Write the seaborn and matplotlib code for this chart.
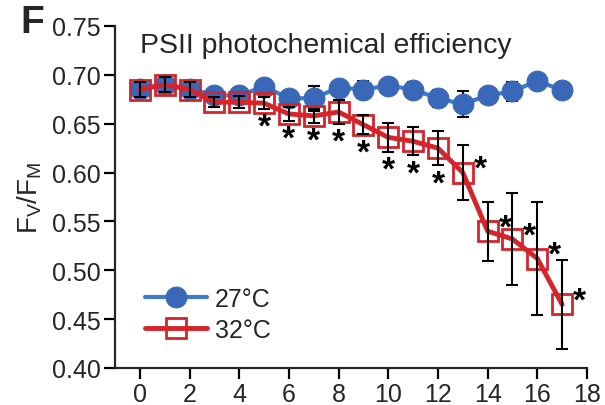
import matplotlib
matplotlib.use("Agg")
import matplotlib.pyplot as plt
import seaborn as sns
import numpy as np
import pandas as pd

days = list(range(18))
fv27 = [0.686, 0.690, 0.686, 0.679, 0.679, 0.688, 0.676, 0.676, 0.687, 0.685,
        0.689, 0.685, 0.676, 0.670, 0.679, 0.683, 0.694, 0.684]
err27 = [0.005, 0.005, 0.005, 0.004, 0.004, 0.004, 0.006, 0.013, 0.004, 0.009,
         0.004, 0.008, 0.009, 0.013, 0.004, 0.010, 0.004, 0.003]
fv32 = [0.685, 0.690, 0.685, 0.672, 0.672, 0.671, 0.660, 0.658, 0.662, 0.649,
        0.636, 0.632, 0.625, 0.600, 0.540, 0.532, 0.512, 0.465]
err32 = [0.008, 0.008, 0.008, 0.005, 0.006, 0.006, 0.007, 0.007, 0.012, 0.010,
         0.015, 0.0145, 0.0175, 0.028, 0.030, 0.047, 0.058, 0.046]
sig_days = [5, 6, 7, 8, 9, 10, 11, 12, 13, 14, 15, 16, 17]
labels = ["27°C", "32°C"]
yticks = [0.40, 0.45, 0.50, 0.55, 0.60, 0.65, 0.70, 0.75]
xticks = [0, 2, 4, 6, 8, 10, 12, 14, 16, 18]

blue = "#3a68b8"
blue_line = "#3c7ccc"
red = "#d6242b"

sns.set_style("ticks")
plt.rcParams['font.family'] = ['Liberation Sans', 'DejaVu Sans']
plt.rcParams['mathtext.fontset'] = 'custom'
plt.rcParams['mathtext.rm'] = 'Liberation Sans'
plt.rcParams['mathtext.it'] = 'Liberation Sans'

df = pd.DataFrame({
    "day": days * 2,
    "fv": fv27 + fv32,
    "temp": [labels[0]] * len(days) + [labels[1]] * len(days),
})

fig = plt.figure(figsize=(6.05, 4.06), dpi=100)
ax = fig.add_axes([115 / 605, 1 - 369 / 406, (587 - 115) / 605, (369 - 27) / 406])

d27 = df[df.temp == labels[0]]
d32 = df[df.temp == labels[1]]
sns.lineplot(data=d27, x="day", y="fv", ax=ax, color=blue_line, lw=3,
             marker="o", markersize=15, markerfacecolor=blue, markeredgecolor=blue,
             label=labels[0], zorder=2)
sns.lineplot(data=d32, x="day", y="fv", ax=ax, color=red, lw=3.5,
             marker="s", markersize=14, markerfacecolor="none", markeredgecolor=red,
             markeredgewidth=2, label=labels[1], zorder=3)

ax.errorbar(days, fv27, yerr=err27, fmt="none", ecolor="black", elinewidth=1.5,
            capsize=4.5, capthick=1.5, zorder=1)
ax.errorbar(days, fv32, yerr=err32, fmt="none", ecolor="black", elinewidth=1.5,
            capsize=4.5, capthick=1.5, zorder=4)

for d in sig_days:
    v = fv32[d]
    e = err32[d]
    if d <= 12:
        ax.text(d, v - e - 0.003, "*", ha="center", va="top", fontsize=24,
                fontweight="bold", color="black")
    else:
        ax.text(d + 0.7, v + 0.019, "*", ha="center", va="top", fontsize=24,
                fontweight="bold", color="black")

ax.set_xlim(-1, 18)
ax.set_ylim(0.40, 0.75)
ax.set_xticks(xticks)
ax.set_yticks(yticks)
ax.set_yticklabels([f"{t:.2f}" for t in yticks])
ax.tick_params(labelsize=18, width=1.6, length=8, pad=2, color="black")
for s in ["left", "bottom"]:
    ax.spines[s].set_linewidth(1.6)
sns.despine(ax=ax)
ax.set_xlabel("")
ax.set_ylabel(r"$\mathregular{F_V/F_M}$", fontsize=20, labelpad=6)

ax.text(0.0, 0.744, "PSII photochemical efficiency", fontsize=20.5, ha="left", va="top",
        transform=ax.transData)
fig.text(20 / 605, 1 - 5 / 406, "F", fontsize=28, fontweight="bold", ha="left", va="top")

leg = ax.legend(loc="lower left", frameon=False, fontsize=18, handlelength=2.5,
                bbox_to_anchor=(0.015, 0.01), handletextpad=0.3, labelspacing=0.3)

fig.savefig("out.png", dpi=100)
